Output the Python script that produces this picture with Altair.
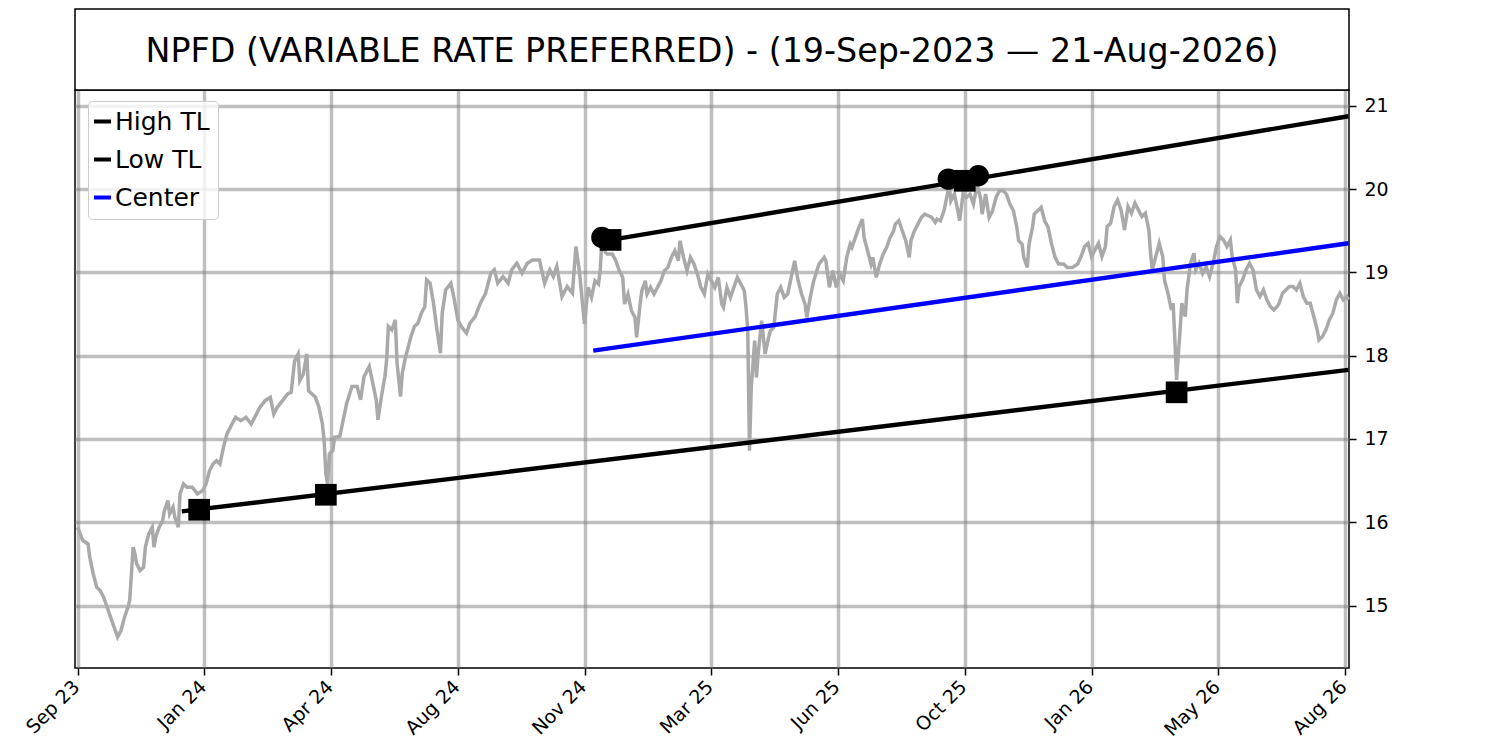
import json
import altair as alt
import pandas as pd

# ---------------- data ----------------
title_text = "NPFD (VARIABLE RATE PREFERRED) - (19-Sep-2023 \u2014 21-Aug-2026)"

tick_idx = [0, 73, 146, 219, 292, 365, 438, 511, 584, 657, 730]
tick_labels = ["Sep 23", "Jan 24", "Apr 24", "Aug 24", "Nov 24", "Mar 25",
               "Jun 25", "Oct 25", "Jan 26", "May 26", "Aug 26"]
y_ticks = [15, 16, 17, 18, 19, 20, 21]

# trading-day index of each read point
price_idx = [
    0, 3, 6, 7, 9, 11, 13, 15, 17, 19, 21, 23, 25, 27, 29, 30, 31, 32, 33, 34,
    36, 38, 39, 41, 43, 44, 45, 47, 49, 50, 52, 53, 55, 56, 58, 59, 61, 63, 66, 69,
    72, 74, 76, 78, 80, 82, 84, 86, 88, 91, 94, 97, 100, 103, 105, 108, 111, 113, 115, 118,
    121, 123, 125, 127, 128, 130, 132, 133, 135, 137, 139, 141, 142, 143, 144, 145, 147, 148,
    151, 153, 155, 158, 161, 163, 165, 168, 170, 172, 173, 175, 177, 178, 179, 181, 183, 184,
    186, 187, 189, 192, 194, 196, 198, 200, 201, 203, 205, 207, 209, 210, 212, 215, 217, 219,
    221, 224, 226, 229, 232, 235, 238, 240, 242, 245, 248, 250, 253, 256, 259, 262, 266, 269,
    272, 274, 276, 279, 282, 285, 287,
    289, 291, 292, 294, 296, 298, 300, 301, 302, 304, 305, 308, 310, 312, 314, 315, 317, 319,
    321, 322, 324, 325, 327, 328, 330, 332, 334, 336, 338, 340, 342, 344, 346, 347, 349, 351,
    353, 355, 357, 359, 361, 363, 365, 367, 369, 371, 372, 374, 376, 378, 380, 382, 384, 385,
    386, 387, 388, 390, 391, 392, 394, 396, 398, 399, 401, 403, 405, 407, 409, 411, 413, 415,
    417, 419, 420, 422, 424, 427, 430,
    431, 433, 435, 437, 439, 441, 443, 445, 446, 448, 450, 452, 453, 455, 457, 458, 460, 462,
    464, 466, 468, 470, 471, 473, 475, 477, 479, 480, 482, 484, 486, 488, 490, 492, 494, 495,
    497, 499, 501, 502, 503, 505, 507, 508, 510, 512, 514, 516, 518, 520, 521, 523, 525, 527,
    529, 531, 533, 535, 537, 539, 541, 542, 544, 545, 547, 548, 550, 551, 553, 555, 557, 559,
    561, 563, 565, 568, 570, 573, 576,
    578, 580, 582, 584, 586, 588, 590, 592, 593, 595, 597, 599, 601, 603, 605, 607, 609, 611,
    613, 615, 617, 618, 619, 621, 623, 625, 626, 628, 630, 631, 632, 633, 635, 636, 638, 639,
    641, 643, 644, 646, 648, 650, 652, 654, 656, 658, 660, 662, 664, 665, 667, 668, 669, 671,
    673, 675, 677, 679, 681, 683, 685, 687, 689, 691, 692, 694, 696, 698, 700, 702, 704, 706,
    708, 710, 712, 714, 715, 717, 719, 721, 723, 725, 727, 729, 731, 732,
]
price_val = [
    15.94, 15.78, 15.74, 15.58, 15.38, 15.22, 15.18, 15.10, 14.98, 14.86, 14.74, 14.62, 14.70, 14.86, 14.98, 15.06, 15.38, 15.70, 15.62, 15.50,
    15.42, 15.46, 15.70, 15.86, 15.94, 15.70, 15.82, 15.94, 16.02, 16.14, 16.26, 16.10, 16.18, 16.06, 15.94, 16.34, 16.46, 16.42, 16.42, 16.34,
    16.38, 16.46, 16.62, 16.70, 16.74, 16.70, 16.90, 17.06, 17.14, 17.26, 17.22, 17.26, 17.18, 17.30, 17.38, 17.46, 17.50, 17.30, 17.38, 17.46,
    17.54, 17.56, 17.94, 18.02, 17.70, 17.78, 18.02, 17.58, 17.54, 17.50, 17.38, 17.18, 16.98, 16.58, 16.46, 16.82, 16.86, 17.02,
    17.03, 17.23, 17.43, 17.63, 17.63, 17.47, 17.75, 17.87, 17.67, 17.47, 17.23, 17.51, 17.75, 17.95, 18.35, 18.31, 18.43, 17.91,
    17.51, 17.79, 17.99, 18.23, 18.35, 18.39, 18.51, 18.59, 18.91, 18.87, 18.63, 18.31, 18.03, 18.51, 18.79, 18.87, 18.67, 18.43,
    18.35, 18.27, 18.39, 18.47, 18.63, 18.75, 18.99, 19.03, 18.87, 18.95, 18.87, 19.03, 19.11, 18.99, 19.11, 19.15, 19.15, 18.87,
    19.03, 18.95, 19.07, 18.71, 18.83, 18.75, 19.31,
    19.02, 18.58, 18.38, 18.82, 18.70, 18.90, 18.86, 19.02, 19.40, 19.24, 19.22, 19.22, 19.14, 19.02, 18.94, 18.62, 18.74, 18.54,
    18.46, 18.22, 18.62, 18.78, 18.90, 18.74, 18.82, 18.74, 18.82, 18.90, 19.02, 19.06, 19.18, 19.26, 19.14, 19.38, 19.18, 19.02,
    19.18, 19.10, 18.98, 18.82, 18.74, 18.98, 18.90, 18.82, 18.94, 18.62, 18.58, 18.82, 18.70, 18.82, 18.94, 18.86, 18.78, 18.58,
    18.30, 16.86, 17.62, 18.18, 17.74, 18.02, 18.42, 18.02, 18.22, 18.30, 18.34, 18.74, 18.82, 18.70, 18.74, 18.94, 19.14, 18.90,
    18.74, 18.62, 18.46, 18.70, 18.90, 19.10, 19.18,
    19.14, 18.82, 19.02, 18.82, 18.98, 18.90, 19.18, 19.34, 19.30, 19.42, 19.54, 19.64, 19.42, 19.26, 19.10, 19.18, 18.94, 19.10,
    19.22, 19.30, 19.42, 19.50, 19.58, 19.62, 19.50, 19.38, 19.18, 19.38, 19.50, 19.58, 19.66, 19.70, 19.68, 19.66, 19.60, 19.64,
    19.62, 19.74, 19.94, 20.05, 19.86, 19.94, 19.74, 19.62, 19.94, 19.90, 19.94, 19.82, 20.05, 19.90, 19.70, 19.94, 19.66, 19.74,
    19.90, 19.98, 19.98, 19.94, 19.82, 19.74, 19.54, 19.38, 19.34, 19.18, 19.06, 19.34, 19.54, 19.70, 19.74, 19.78, 19.62, 19.54,
    19.34, 19.18, 19.10, 19.10, 19.06, 19.06, 19.10,
    19.19, 19.31, 19.35, 19.19, 19.27, 19.35, 19.19, 19.31, 19.55, 19.59, 19.79, 19.87, 19.75, 19.51, 19.79, 19.71, 19.83, 19.75,
    19.67, 19.71, 19.51, 19.23, 19.03, 19.19, 19.35, 19.19, 18.91, 18.75, 18.55, 18.63, 18.19, 17.71, 18.31, 18.63, 18.47, 18.79,
    19.11, 19.23, 19.03, 19.11, 18.99, 19.07, 18.95, 19.11, 19.31, 19.43, 19.39, 19.31, 19.39, 19.19, 19.03, 18.63, 18.83, 18.91,
    19.03, 19.11, 19.03, 18.79, 18.71, 18.79, 18.67, 18.59, 18.55, 18.59, 18.63, 18.75, 18.79, 18.83, 18.83, 18.79, 18.87, 18.71,
    18.63, 18.63, 18.47, 18.31, 18.19, 18.23, 18.31, 18.43, 18.51, 18.67, 18.75, 18.67, 18.71, 18.67,
]

tl_series = ["High TL", "High TL", "Low TL", "Low TL", "Center", "Center"]
tl_idx = [307, 732, 60, 732, 297, 732]
tl_val = [19.39, 20.875, 16.13, 17.83, 18.06, 19.35]

circle_idx = [302, 501.5, 518.8]
circle_val = [19.42, 20.12, 20.16]

square_idx = [307, 511, 70, 143, 633]
square_val = [19.39, 20.10, 16.15, 16.33, 17.56]

# ---------------- chart ----------------
FONT = "DejaVu Sans"
W, H = 1274, 578

price_df = pd.DataFrame({"idx": price_idx, "val": price_val})
tl_df = pd.DataFrame({"series": tl_series, "idx": tl_idx, "val": tl_val})
circ_df = pd.DataFrame({"idx": circle_idx, "val": circle_val})
sq_df = pd.DataFrame({"idx": square_idx, "val": square_val})
one_df = pd.DataFrame({"k": [0]})

label_expr = f"{json.dumps(tick_labels)}[indexof({json.dumps(tick_idx)}, datum.value)]"

x_enc = alt.X(
    "idx:Q",
    scale=alt.Scale(domain=[-1.5, 732.3], nice=False, zero=False),
    axis=alt.Axis(values=tick_idx, labelExpr=label_expr, title=None, grid=True,
                  tickSize=7, labelAngle=-45, labelAlign="right", labelBaseline="top",
                  labelPadding=2, labelOffset=-8, labelFontSize=19,
                  labelFlush=False, labelOverlap=False),
)
y_enc = alt.Y(
    "val:Q",
    scale=alt.Scale(domain=[14.25, 21.19], nice=False, zero=False),
    axis=alt.Axis(values=y_ticks, orient="right", title=None, grid=True,
                  tickSize=7, labelPadding=8, labelFlush=False, labelOverlap=False),
)

price_layer = alt.Chart(price_df).mark_line(color="#a9a9a9", strokeWidth=3.5).encode(
    x=x_enc, y=y_enc, order="idx:Q"
)

tl_layer = alt.Chart(tl_df).mark_line(strokeWidth=4.4).encode(
    x=x_enc,
    y=y_enc,
    color=alt.Color(
        "series:N",
        scale=alt.Scale(domain=["High TL", "Low TL", "Center"], range=["black", "black", "blue"]),
        legend=alt.Legend(
            orient="none", legendX=13, legendY=11, title=None,
            labelFont=FONT, labelFontSize=25, labelColor="black", labelOffset=0,
            symbolType="stroke", symbolSize=289, symbolStrokeWidth=4, symbolOffset=-6,
            rowPadding=12, padding=8, strokeColor="#cccccc",
            fillColor="rgba(255,255,255,0.8)", cornerRadius=4,
        ),
    ),
    detail="series:N",
)

circ_layer = alt.Chart(circ_df).mark_point(
    shape="circle", filled=True, color="black", opacity=1, size=460
).encode(x=x_enc, y=y_enc)

sq_layer = alt.Chart(sq_df).mark_point(
    shape="square", filled=True, color="black", opacity=1, size=470
).encode(x=x_enc, y=y_enc)

title_box = alt.Chart(one_df).mark_rect(fill="white", stroke="black", strokeWidth=1.5).encode(
    x=alt.value(0), x2=alt.value(W), y=alt.value(-81), y2=alt.value(0)
)
title_txt = alt.Chart(one_df).mark_text(
    font=FONT, fontSize=33.3, color="black", align="center", baseline="alphabetic"
).encode(x=alt.value(W / 2), y=alt.value(-28), text=alt.value(title_text))

chart = (
    alt.layer(price_layer, tl_layer, circ_layer, sq_layer, title_box, title_txt)
    .properties(
        width=W, height=H,
        autosize=alt.AutoSizeParams(type="none"),
        padding={"left": 67, "top": 82, "right": 130, "bottom": 74},
        background="white",
    )
    .configure_axis(
        domain=False, gridColor="#808080", gridOpacity=0.5, gridWidth=3.5,
        tickColor="black", tickWidth=1.5, labelColor="black",
        labelFont=FONT, labelFontSize=19,
    )
    .configure_view(stroke="black", strokeWidth=1.5)
)

chart.save("out.html", embed_options={"renderer": "svg", "actions": False})
